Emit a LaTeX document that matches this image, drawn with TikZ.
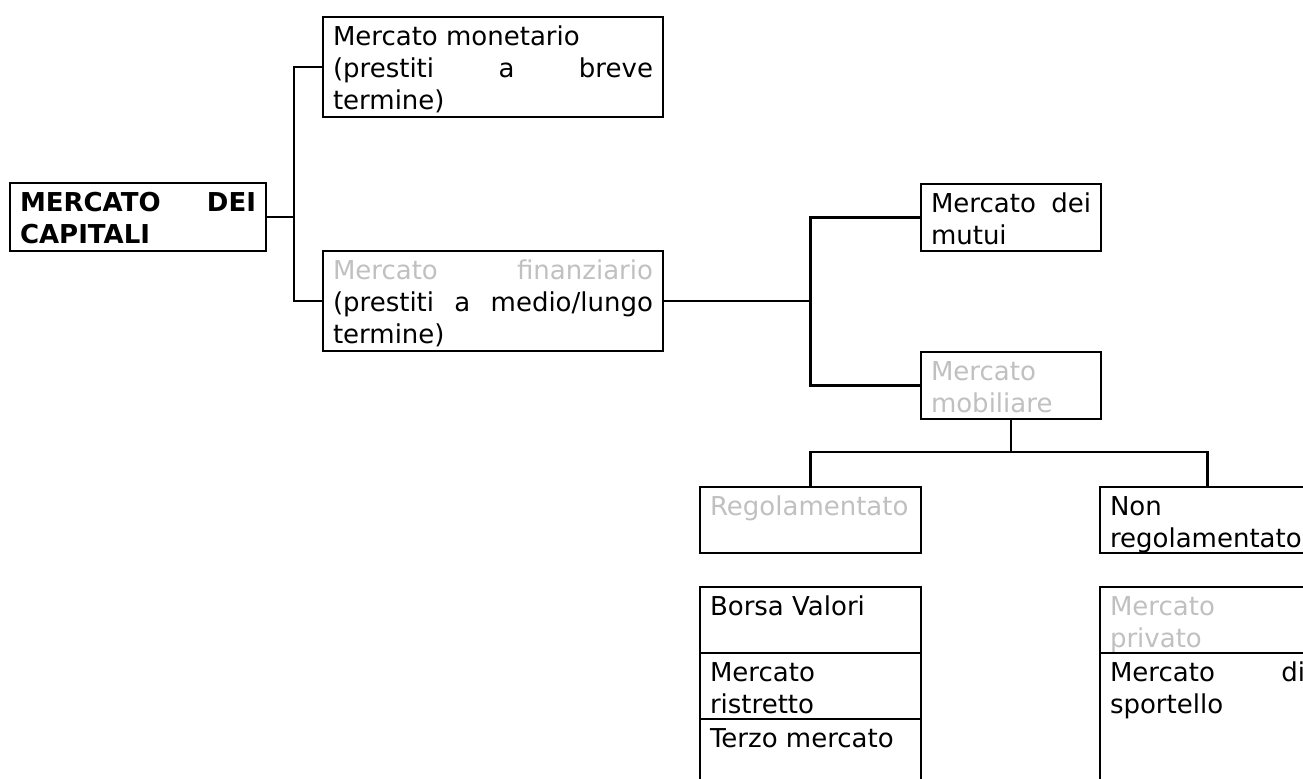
\documentclass[tikz,border=0pt]{standalone}
\usepackage{fontspec}
\setmainfont{DejaVu Sans}
\usepackage{xcolor}
\usetikzlibrary{positioning}

\definecolor{faded}{RGB}{192,192,192}
\newcommand{\grey}[1]{\textcolor{faded}{#1}}
\newcommand{\celltext}[3]{\parbox[t][#2][t]{#1}{\rule{0pt}{14pt}#3}}

\begin{document}
\begin{tikzpicture}[
  x=0.5pt, y=-0.5pt,
  box/.style={draw, line width=1.2pt, anchor=north west, inner xsep=5pt, inner ysep=0pt, outer sep=0pt, font=\fontsize{13}{16}\selectfont},
  link/.style={line width=1.2pt}
]
  \clip (0,0) rectangle (1303,778);

  \node[box] (capitali) at (10,183) {\celltext{118pt}{34pt}{\textbf{MERCATO\hfill DEI}\\\textbf{CAPITALI}}};
  \node[box] (monetario) at (323,17) {\celltext{160pt}{50pt}{Mercato monetario\\(prestiti\hfill a\hfill breve\\termine)}};
  \node[box] (finanziario) at (323,251) {\celltext{160pt}{50pt}{\grey{Mercato\hfill finanziario}\\(prestiti\hfill a\hfill medio/lungo\\termine)}};

  \node[box] (mutui) at (921,184) {\celltext{80pt}{33.5pt}{Mercato\hfill dei\\mutui}};
  \node[box, below=50.5pt of mutui] (mobiliare) {\celltext{80pt}{33.5pt}{\grey{Mercato\\mobiliare}}};

  \node[box] (regolamentato) at (700,487) {\celltext{100.5pt}{33pt}{\grey{Regolamentato}}};
  \node[box, right=89.5pt of regolamentato] (nonreg) {\celltext{97.5pt}{33pt}{Non\\regolamentato}};

  % sotto-mercati
  \node[box, below=17pt of regolamentato] (borsa) {\celltext{100.5pt}{33pt}{Borsa Valori}};
  \node[box, below=0pt of borsa] (ristretto) {\celltext{100.5pt}{33pt}{Mercato\\ristretto}};
  \node[box, below=0pt of ristretto] (terzo) {\celltext{100.5pt}{36pt}{Terzo mercato}};
  \node[box, below=17pt of nonreg] (privato) {\celltext{97.5pt}{33pt}{\grey{Mercato\\privato}}};
  \node[box, below=0pt of privato] (sportello) {\celltext{97.5pt}{69pt}{Mercato\hfill di\\sportello}};

  \draw[link] (capitali.east) -- ++(28,0) |- (monetario.west);
  \draw[link] (capitali.east) -- ++(28,0) |- (finanziario.west);
  \draw[link] (finanziario.east) -- (finanziario.east -| regolamentato.north) |- (mutui.west);
  \draw[link] (finanziario.east -| regolamentato.north) |- (mobiliare.west);
  \draw[link] (mobiliare.south) -- ++(0,33) -| (regolamentato.north);
  \draw[link] (mobiliare.south) -- ++(0,33) -| (nonreg.north);
\end{tikzpicture}
\end{document}
